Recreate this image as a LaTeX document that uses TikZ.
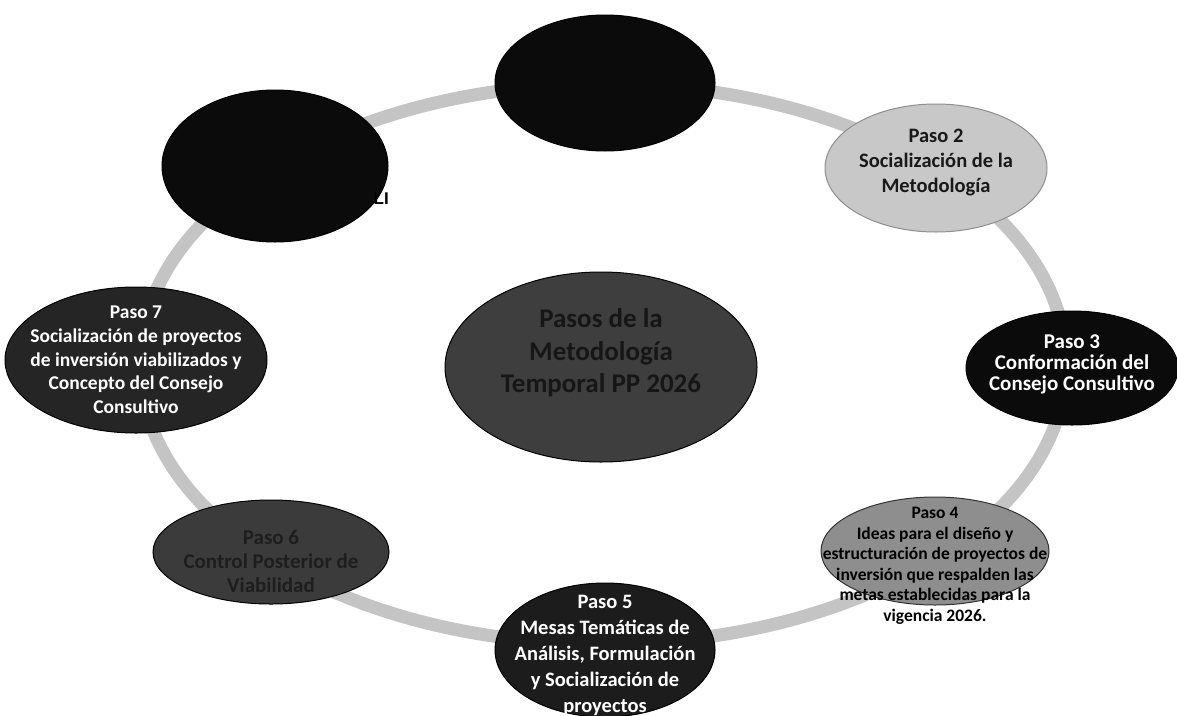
\documentclass[tikz,border=0pt]{standalone}
\usepackage{fontspec}
\setmainfont{Carlito}
\newfontfamily\arialfont{Liberation Sans}
\usetikzlibrary{shapes.geometric}
\definecolor{ringgray}{HTML}{C4C4C4}
\definecolor{blk}{HTML}{0B0B0B}
\definecolor{ltgray}{HTML}{C8C8C8}
\definecolor{ltedge}{HTML}{8F8F8F}
\definecolor{midgray}{HTML}{8E8E8E}
\definecolor{dkfive}{HTML}{1C1C1C}
\definecolor{dksix}{HTML}{3B3B3B}
\definecolor{dksixtxt}{HTML}{1E1E1E}
\definecolor{dkseven}{HTML}{252525}
\definecolor{ctrfill}{HTML}{3E3E3E}
\definecolor{ctrtxt}{HTML}{161616}
\tikzset{
  pill/.style={ellipse, draw=black, line width=1pt, inner sep=0pt},
  txt/.style={align=center, inner sep=0pt, font=\bfseries},
  ringline/.style={draw=ringgray, line width=13pt},
}
\begin{document}
\begin{tikzpicture}[x=1pt,y=-1pt]
\useasboundingbox[fill=white] (0,0) rectangle (1177,715);
% ring
\coordinate (rc) at (603,364);
\draw[ringline] (rc) ellipse [x radius=463pt, y radius=280pt];
% step 1 (top)
\node[pill, fill=blk, minimum width=220pt, minimum height=136pt] (p1) at (605,83) {};
% step 8 (top left)
\node[pill, fill=blk, minimum width=226pt, minimum height=152pt] (p8) at (275,166) {};
\node[font=\arialfont\bfseries\fontsize{17}{19}\selectfont, text=black, anchor=east, inner sep=0pt] (p8t) at (389,199) {LI};
% step 2
\node[pill, fill=ltgray, draw=ltedge, minimum width=222pt, minimum height=128pt] (p2) at (936,168) {};
\node[txt, text=black!90, font=\bfseries\fontsize{20.5}{25}\selectfont] (p2t) at (936,163) {Paso 2\\Socialización de la\\Metodología};
% step 3
\node[pill, fill=blk, minimum width=212pt, minimum height=114pt] (p3) at (1072,368) {};
\node[txt, text=white, font=\bfseries\fontsize{21}{21}\selectfont] (p3t) at (1072,364) {Paso 3\\Conformación del\\Consejo Consultivo};
% step 4
\node[pill, fill=midgray, draw=black!80, minimum width=228pt, minimum height=108pt] (p4) at (935,551) {};
\node[txt, text=black, font=\bfseries\fontsize{17.5}{20.5}\selectfont] (p4t) at (935,566) {Paso 4\\Ideas para el diseño y\\estructuración de proyectos de\\inversión que respalden las\\metas establecidas para la\\vigencia 2026.};
% step 5
\node[pill, fill=dkfive, minimum width=220pt, minimum height=134pt] (p5) at (605,650) {};
\node[txt, text=white, font=\bfseries\fontsize{20.5}{26}\selectfont] (p5t) at (605,655) {Paso 5\\Mesas Temáticas de\\Análisis, Formulación\\y Socialización de\\proyectos};
% step 6
\node[pill, fill=dksix, minimum width=236pt, minimum height=104pt] (p6) at (271,552) {};
\node[txt, text=dksixtxt, font=\bfseries\fontsize{21}{24}\selectfont] (p6t) at (271,561) {Paso 6\\Control Posterior de\\Viabilidad};
% step 7
\node[pill, fill=dkseven, minimum width=262pt, minimum height=146pt] (p7) at (136,360) {};
\node[txt, text=white, font=\bfseries\fontsize{19.5}{23.7}\selectfont] (p7t) at (136,360) {Paso 7\\Socialización de proyectos\\de inversión viabilizados y\\Concepto del Consejo\\Consultivo};
% centre
\node[pill, fill=ctrfill, minimum width=312pt, minimum height=190pt] (ctr) at (601,367) {};
\node[txt, text=ctrtxt, font=\bfseries\fontsize{27}{32.5}\selectfont] (ctrt) at (601,353) {Pasos de la\\Metodología\\Temporal PP 2026};
\end{tikzpicture}
\end{document}
